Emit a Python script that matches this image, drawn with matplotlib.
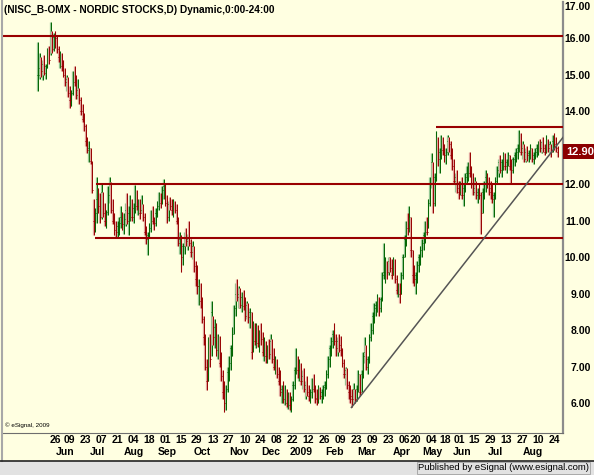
import numpy as np
import pandas as pd
import matplotlib
matplotlib.use('Agg')
import matplotlib.pyplot as plt
from matplotlib.transforms import blended_transform_factory
from matplotlib.lines import Line2D
from matplotlib.patches import Rectangle

plt.rcParams['font.family'] = ['Liberation Sans', 'DejaVu Sans']

# --- data ---
title = '(NISC_B-OMX - NORDIC STOCKS,D) Dynamic,0:00-24:00'

holidays = ['2008-05-12', '2008-06-05', '2008-12-24', '2008-12-25', '2008-12-26',
            '2008-12-31', '2009-01-01', '2009-04-09', '2009-04-10', '2009-04-13',
            '2009-05-08', '2009-05-21', '2009-06-05']
dates = pd.bdate_range('2008-05-08', '2009-08-26', freq='C', holidays=holidays)

# one line per week
highs = [
    15.9, 15.6,
    15.5, 15.4, 15.55, 15.3,
    15.75, 15.8, 16.45, 16.2, 16.15,
    16.2, 16.1, 15.8, 15.65, 15.6,
    15.4, 15.2, 15.0, 14.95,
    14.7, 14.6, 15.1, 15.25, 15.0,
    14.9, 14.65, 14.4, 14.2, 13.95,
    13.65, 13.3, 13.2, 13.0, 12.65,
    11.6, 11.35, 12.2, 11.9, 11.75,
    12.0, 11.8, 11.5, 11.3, 11.95,
    12.2, 12.05, 11.6, 11.2, 11.0,
    11.0, 11.1, 11.4, 11.25, 11.2,
    11.5, 11.75, 11.4, 11.7, 11.6,
    11.5, 11.97, 11.85, 11.6, 11.6,
    11.7, 11.45, 11.2, 10.85, 10.7,
    10.95, 11.3, 11.4, 11.1, 11.35,
    11.55, 11.8, 11.75, 11.95, 12.15,
    12.0, 11.7, 11.55, 11.65, 11.6,
    11.6, 11.55, 11.45, 11.1, 10.7,
    10.6, 10.4, 10.7, 10.8, 10.65,
    11.0, 10.5, 10.45, 10.3, 9.9,
    9.8, 9.4, 9.3, 8.9, 8.4,
    7.9, 7.2, 7.8, 7.9, 8.8,
    8.4, 8.3, 8.2, 7.9, 7.85,
    7.4, 6.9, 6.6, 6.5, 7.0,
    7.3, 7.6, 8.1, 8.7, 9.3,
    9.4, 9.2, 9.15, 9.05, 9.1,
    8.9, 8.8, 8.75, 8.6, 8.5,
    8.25, 8.2, 8.2, 8.15, 8.0,
    8.2, 7.95, 7.8, 7.7, 7.6,
    7.75, 7.9, 7.75, 7.5, 7.3,
    7.2, 7.0, 6.9, 6.5, 6.6,
    6.5, 6.4, 6.3, 6.3, 6.2,
    6.6, 7.0,
    7.5, 7.3, 7.2,
    7.1, 6.9, 6.95, 6.6, 6.75,
    6.5, 6.4, 6.7, 6.8, 6.5,
    6.4, 6.5, 6.45, 6.4, 6.5,
    6.6, 6.9, 7.3, 7.6, 7.8,
    8.0, 8.2, 7.9, 7.8, 7.9,
    7.85, 7.5, 7.2, 7.0, 6.95,
    6.6, 6.5, 6.4, 6.55, 6.4,
    6.5, 6.9, 6.8, 6.9, 7.4,
    7.8, 7.6, 7.3, 7.9, 8.2,
    8.5, 8.75, 8.8, 9.0, 8.9,
    8.9, 9.6, 10.4, 10.0, 9.9,
    10.0, 10.0, 9.95, 10.0, 9.95,
    9.5, 9.3, 9.3, 9.6, 10.1,
    10.6, 11.0, 11.2,
    11.4, 11.1, 10.2, 9.8,
    9.6, 9.9, 10.1, 10.3, 10.5,
    10.7, 11.0, 11.1, 11.6, 12.2,
    12.85, 12.6, 12.3, 13.45,
    13.3, 13.0, 13.35, 13.3, 13.1,
    13.0, 13.35, 13.3, 13.2,
    13.0, 12.7, 12.3, 12.4, 12.1,
    12.1, 12.2, 12.0, 12.3,
    12.5, 12.6, 12.9, 12.5, 12.3,
    12.2, 12.1, 11.9, 12.0, 11.8,
    11.9, 12.1, 12.4, 12.3, 12.2,
    12.1, 12.0, 11.8, 12.2, 12.5,
    12.7, 12.8, 12.7, 12.9, 12.85,
    12.7, 12.9, 12.8, 12.7, 12.75,
    12.9, 13.0, 13.1, 13.5, 13.4,
    13.2, 13.1, 13.0, 13.05, 12.95,
    13.1, 13.0, 12.9, 13.0, 13.1,
    13.2, 13.25, 13.2, 13.3, 13.1,
    13.35, 13.25, 13.2, 13.1, 13.35,
    13.4, 13.3, 13.05,
]
lows = [
    14.55, 14.9,
    14.95, 14.85, 15.0, 14.9,
    15.2, 15.3, 15.55, 15.6, 15.65,
    15.75, 15.6, 15.35, 15.2, 15.1,
    14.95, 14.7, 14.55, 14.4,
    14.1, 14.15, 14.45, 14.7, 14.35,
    14.35, 14.2, 13.9, 13.7, 13.45,
    13.05, 12.85, 12.6, 12.55, 11.75,
    10.6, 10.7, 10.95, 11.2, 10.95,
    11.05, 11.1, 10.85, 10.8, 11.15,
    11.5, 11.2, 10.9, 10.6, 10.55,
    10.55, 10.6, 10.8, 10.75, 10.65,
    10.85, 10.9, 10.6, 11.0, 11.0,
    10.95, 11.2, 11.3, 11.15, 11.05,
    11.2, 11.0, 10.6, 10.35, 10.05,
    10.55, 10.7, 10.9, 10.75, 10.85,
    11.1, 11.3, 11.35, 11.45, 11.6,
    11.4, 10.95, 11.0, 11.3, 11.15,
    11.1, 11.2, 10.9, 10.3, 10.1,
    9.6, 9.8, 10.1, 10.3, 10.2,
    10.3, 10.0, 9.95, 9.6, 9.2,
    9.0, 8.7, 8.6, 8.2, 7.6,
    6.9, 6.35, 6.6, 7.0, 7.3,
    7.6, 7.5, 7.3, 7.2, 7.0,
    6.6, 6.1, 5.75, 5.8, 6.3,
    6.6, 6.9, 7.3, 7.9, 8.4,
    8.8, 8.6, 8.6, 8.5, 8.55,
    8.25, 8.3, 8.2, 8.05, 7.2,
    7.4, 7.6, 7.5, 7.55, 7.4,
    7.6, 7.3, 7.15, 7.1, 7.1,
    7.2, 7.2, 7.1, 6.9, 6.8,
    6.7, 6.5, 6.2, 6.0, 6.0,
    5.95, 5.9, 5.85, 5.8, 5.75,
    6.05, 6.4,
    6.8, 6.7, 6.6,
    6.5, 6.4, 6.3, 6.1, 6.2,
    6.05, 6.0, 6.15, 6.3, 6.0,
    5.95, 6.0, 6.1, 6.0, 6.1,
    6.2, 6.4, 6.7, 7.0, 7.3,
    7.5, 7.6, 7.3, 7.3, 7.4,
    7.3, 7.0, 6.7, 6.5, 6.4,
    6.1, 6.0, 5.88, 6.0, 6.0,
    6.05, 6.3, 6.2, 6.3, 6.7,
    7.1, 6.9, 6.8, 7.1, 7.7,
    7.9, 8.2, 8.4, 8.5, 8.4,
    8.5, 8.8, 9.4, 9.3, 9.4,
    9.5, 9.6, 9.4, 9.5, 9.3,
    9.0, 8.9, 8.75, 9.0, 9.4,
    10.0, 10.3, 10.6,
    10.7, 10.0, 9.3, 9.2,
    9.0, 9.3, 9.6, 9.8, 10.0,
    10.2, 10.4, 10.6, 10.8, 11.4,
    11.9, 11.2, 11.4, 12.1,
    12.5, 12.3, 12.7, 12.8, 12.6,
    12.55, 12.8, 12.9, 12.7,
    12.4, 12.0, 11.8, 11.75, 11.6,
    11.7, 11.6, 11.4, 11.8,
    12.0, 12.1, 12.2, 11.9, 11.7,
    11.7, 11.6, 11.5, 11.6, 10.65,
    11.2, 11.6, 11.8, 11.9, 11.7,
    11.6, 11.5, 11.1, 11.6, 12.0,
    12.2, 12.3, 12.2, 12.4, 12.4,
    12.3, 12.5, 12.4, 12.0, 12.3,
    12.5, 12.6, 12.7, 12.9, 12.8,
    12.7, 12.6, 12.6, 12.65, 12.6,
    12.7, 12.6, 12.55, 12.7, 12.75,
    12.8, 12.9, 12.85, 12.9, 12.8,
    12.85, 12.9, 12.85, 12.75, 12.9,
    12.95, 12.9, 12.75,
]
closes = [
    15.0, 15.2,
    15.1, 15.3, 15.05, 15.25,
    15.6, 15.4, 16.1, 15.7, 16.05,
    16.0, 15.7, 15.5, 15.55, 15.25,
    15.0, 14.8, 14.9, 14.5,
    14.3, 14.5, 15.0, 14.8, 14.45,
    14.6, 14.3, 14.0, 13.8, 13.6,
    13.2, 12.95, 13.0, 12.65, 11.85,
    11.0, 11.2, 11.6, 11.4, 11.1,
    11.8, 11.2, 11.0, 11.25, 11.7,
    12.0, 11.3, 11.0, 10.75, 10.7,
    10.85, 10.95, 11.1, 10.9, 11.05,
    11.3, 11.0, 11.2, 11.5, 11.1,
    11.35, 11.8, 11.4, 11.5, 11.2,
    11.3, 11.1, 10.7, 10.5, 10.6,
    10.8, 11.1, 11.0, 10.95, 11.2,
    11.4, 11.7, 11.5, 11.85, 11.95,
    11.5, 11.1, 11.45, 11.4, 11.3,
    11.5, 11.3, 11.0, 10.4, 10.5,
    10.0, 10.3, 10.55, 10.45, 10.5,
    10.4, 10.15, 10.3, 9.75, 9.4,
    9.2, 9.2, 8.8, 8.3, 7.8,
    7.0, 6.6, 7.5, 7.2, 8.5,
    7.8, 8.1, 7.45, 7.7, 7.1,
    6.75, 6.3, 6.0, 6.4, 6.85,
    7.1, 7.5, 7.9, 8.6, 9.0,
    8.9, 9.0, 8.7, 8.9, 8.65,
    8.4, 8.7, 8.35, 8.5, 7.4,
    8.0, 7.7, 8.05, 7.65, 7.9,
    7.75, 7.4, 7.6, 7.3, 7.45,
    7.35, 7.7, 7.2, 7.0, 7.15,
    6.8, 6.6, 6.3, 6.4, 6.1,
    6.3, 6.0, 6.2, 5.95, 6.1,
    6.5, 6.9,
    7.2, 6.9, 7.0,
    6.6, 6.75, 6.4, 6.5, 6.3,
    6.2, 6.3, 6.6, 6.4, 6.15,
    6.1, 6.35, 6.2, 6.3, 6.45,
    6.5, 6.8, 7.2, 7.5, 7.7,
    7.9, 7.7, 7.5, 7.7, 7.6,
    7.45, 7.1, 6.8, 6.9, 6.5,
    6.3, 6.2, 6.1, 6.4, 6.1,
    6.4, 6.8, 6.3, 6.8, 7.3,
    7.4, 7.0, 7.2, 7.8, 8.0,
    8.4, 8.6, 8.7, 8.8, 8.6,
    8.85, 9.5, 9.6, 9.8, 9.6,
    9.9, 9.7, 9.5, 9.9, 9.4,
    9.1, 9.2, 9.0, 9.5, 10.0,
    10.5, 10.9, 10.8,
    11.1, 10.2, 9.5, 9.4,
    9.5, 9.8, 10.0, 10.2, 10.4,
    10.6, 10.9, 10.7, 11.5, 12.0,
    12.6, 11.5, 12.2, 13.2,
    12.7, 12.9, 13.2, 12.95, 12.8,
    12.9, 13.2, 13.1, 12.8,
    12.5, 12.1, 12.2, 11.9, 11.8,
    12.0, 11.7, 11.9, 12.2,
    12.3, 12.5, 12.3, 12.0, 11.8,
    11.9, 11.7, 11.8, 11.7, 11.2,
    11.8, 12.0, 12.2, 12.0, 11.9,
    11.8, 11.6, 11.7, 12.1, 12.4,
    12.6, 12.4, 12.6, 12.8, 12.5,
    12.6, 12.8, 12.5, 12.4, 12.7,
    12.8, 12.9, 13.0, 13.3, 12.9,
    13.0, 12.7, 12.9, 12.8, 12.85,
    13.0, 12.7, 12.8, 12.9, 13.0,
    13.1, 13.0, 13.15, 13.0, 12.9,
    13.2, 13.0, 13.1, 12.9, 13.2,
    13.1, 13.0, 12.9,
]
assert len(highs) == len(lows) == len(closes) == len(dates)

# horizontal support/resistance lines: price and the day they start (None = whole chart)
levels = [16.08, 13.58, 12.0, 10.52]
level_starts = [None, '2009-05-07', '2008-07-02', '2008-07-01']
trend_pts = [('2009-02-18', 5.88), ('2009-08-26', 13.08)]

tick_days = ['2008-05-26', '2008-06-09', '2008-06-23', '2008-07-07', '2008-07-21',
             '2008-08-04', '2008-08-18', '2008-09-01', '2008-09-15', '2008-09-29',
             '2008-10-13', '2008-10-27', '2008-11-10', '2008-11-24', '2008-12-08',
             '2008-12-22', '2009-01-12', '2009-01-26', '2009-02-09', '2009-02-23',
             '2009-03-09', '2009-03-23', '2009-04-06', '2009-04-20', '2009-05-04',
             '2009-05-18', '2009-06-01', '2009-06-15', '2009-06-29', '2009-07-13',
             '2009-07-27', '2009-08-10', '2009-08-24']
month_firsts = ['2008-06-01', '2008-07-01', '2008-08-01', '2008-09-01', '2008-10-01',
                '2008-11-01', '2008-12-01', '2009-01-01', '2009-02-01', '2009-03-01',
                '2009-04-01', '2009-05-01', '2009-06-01', '2009-07-01', '2009-08-01']
month_names = ['Jun', 'Jul', 'Aug', 'Sep', 'Oct', 'Nov', 'Dec', '2009',
               'Feb', 'Mar', 'Apr', 'May', 'Jun', 'Jul', 'Aug']
y_ticks = np.arange(6, 18)

# --- plot ---
BG = '#FFFFE1'
fig = plt.figure(figsize=(5.94, 4.75), dpi=100, facecolor=BG)
ax = fig.add_axes([3 / 594, 42 / 475, 560 / 594, 431 / 475], facecolor=BG)

x = np.arange(len(dates))
h = np.array(highs)
l = np.array(lows)
c = np.array(closes)
o = np.concatenate([[c[0]], c[:-1]])
up = c >= o

# each bar: a pale stroke with a dark stroke beside it, plus a close tick
for mask, pale, dark in [(up, '#93C793', '#006400'), (~up, '#E0A39A', '#960000')]:
    ax.vlines(x[mask] - 0.25, l[mask], h[mask], color=pale, lw=0.9)
    ax.vlines(x[mask] + 0.3, l[mask], h[mask], color=dark, lw=0.7)
    ax.hlines(c[mask], x[mask], x[mask] + 0.8, color=dark, lw=0.7)

x0, x1 = -21.6, 329.7
for lev, start in zip(levels, level_starts):
    xs = x0 if start is None else dates.searchsorted(pd.Timestamp(start))
    ax.hlines(lev, xs, x1, color='#990000', lw=1.5, zorder=3)

(d0, p0), (d1, p1) = trend_pts
i0 = dates.get_loc(pd.Timestamp(d0))
i1 = dates.get_loc(pd.Timestamp(d1))
slope = (p1 - p0) / (i1 - i0)
ax.plot([i0, x1], [p0, p0 + slope * (x1 - i0)], color='#555555', lw=1.1, zorder=4)

ax.set_xlim(x0, x1)
ax.set_ylim(5.18, 16.99)

# x axis: day numbers and months
tick_pos = dates.searchsorted(pd.to_datetime(tick_days))
ax.set_xticks(tick_pos, [pd.Timestamp(d).strftime('%d') for d in tick_days],
              fontsize=7.5, fontweight='bold')
ax.tick_params(axis='x', length=0, pad=1.5)
trans = blended_transform_factory(ax.transData, ax.transAxes)
for first, name in zip(month_firsts, month_names):
    pos = dates.searchsorted(pd.Timestamp(first))
    ax.text(pos + 1.5, -0.044, name, transform=trans, ha='center', va='center',
            fontsize=7.5, fontweight='bold')

# y axis on the right
ax.yaxis.tick_right()
ax.set_yticks(y_ticks, [f'{v:.2f}' for v in y_ticks], fontsize=7.5, fontweight='bold')
ax.tick_params(axis='y', length=0, pad=20)
for lab in ax.get_yticklabels():
    lab.set_horizontalalignment('right')
ax.get_yticklabels()[-1].set_verticalalignment('top')

for s in ['top', 'left']:
    ax.spines[s].set_visible(False)
ax.spines['right'].set_color('#8C8C8C')
ax.spines['right'].set_linewidth(1.6)
ax.spines['bottom'].set_color('#6E6E6E')
ax.spines['bottom'].set_linewidth(0.8)

# last price tag (covers the 13.00 label, as on the original)
ytrans = blended_transform_factory(ax.transAxes, ax.transData)
ax.text(1.0 + 3 / 560, closes[-1], f'{closes[-1]:.2f}', transform=ytrans,
        ha='left', va='center', color='white', fontsize=8, fontweight='bold',
        bbox=dict(boxstyle='square,pad=0.25', fc='#8B0000', ec='none'), zorder=6)

ax.text(0.002, 1 - 8 / 431, title, transform=ax.transAxes, ha='left', va='center',
        fontsize=7.3, fontweight='bold')
ax.text(0.004, 0.012, '\u00a9 eSignal, 2009', transform=ax.transAxes, ha='left',
        va='bottom', fontsize=4.5)

# frame decorations and footer
fig.add_artist(Line2D([1.5 / 594, 1.5 / 594], [14 / 475, 1], color='#A8A8A8', lw=1.5))
fig.add_artist(Rectangle((0, 0), 1, 14 / 475, transform=fig.transFigure,
                         fc='#E2E2E2', ec='none'))
fig.add_artist(Line2D([0, 1], [14 / 475, 14 / 475], color='#222222', lw=1.2))
fig.text(589 / 594, 7 / 475, 'Published by eSignal (www.esignal.com)', ha='right',
         va='center', fontsize=6.8,
         bbox=dict(boxstyle='square,pad=0.15', fc='#E2E2E2', ec='#A0A0A0', lw=0.6))

fig.savefig('out.png', dpi=100, facecolor=BG)
